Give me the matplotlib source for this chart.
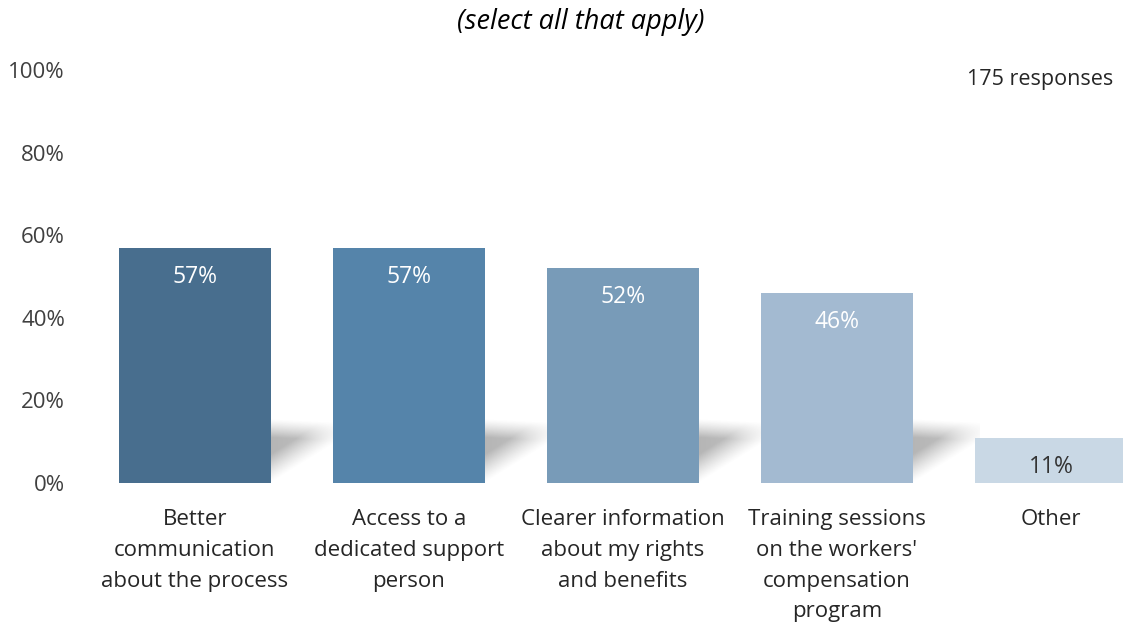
import numpy as np
import matplotlib

matplotlib.use("Agg")
import matplotlib.pyplot as plt

plt.rcParams["font.family"] = ["Open Sans", "DejaVu Sans"]

categories = [
    "Better\ncommunication\nabout the process",
    "Access to a\ndedicated support\nperson",
    "Clearer information\nabout my rights\nand benefits",
    "Training sessions\non the workers'\ncompensation\nprogram",
    "Other",
]
values = [57, 57, 52, 46, 11]
colors = ["#486E8E", "#5584AA", "#789BB8", "#A3BAD1", "#C9D8E5"]
label_colors = ["white", "white", "white", "white", "#333333"]
yticks = [0, 20, 40, 60, 80, 100]
n_responses = 175

W, H = 1123, 625
fig = plt.figure(figsize=(W / 100, H / 100), dpi=100)
ax = fig.add_axes([90 / W, 142 / H, 1 - 90 / W, (483 - 70) / H])

x = np.arange(len(categories))
bar_w = 0.71
ax.bar(x, values, width=bar_w, color=colors, zorder=3)


def add_shadow(ax, x_left, gap):
    # soft perspective shadow in the gap to the right of a bar
    nx, ny = 120, 120
    u = np.linspace(0, 1, nx)
    v = np.linspace(0, 20, ny)
    U, V = np.meshgrid(u, v)
    bottom = 0.0 + 10.0 * U
    top = 15.5 - 0.8 * U
    a = np.clip((V - bottom) / 7.0, 0, 1) * np.clip((top - V) / 4.5, 0, 1)
    a = a ** 1.2 * (0.5 - 0.1 * U)
    rgba = np.zeros((ny, nx, 4))
    rgba[..., :3] = 0.42
    rgba[..., 3] = a
    ax.imshow(rgba, extent=[x_left, x_left + gap, 0, 20], origin="lower",
              aspect="auto", interpolation="bilinear", zorder=1)


for xi in x[:-1]:
    add_shadow(ax, xi + bar_w / 2, 1 - bar_w + 0.02)

for xi, v, lc in zip(x, values, label_colors):
    ax.annotate(f"{v}%", (xi, v), xytext=(0, -21), textcoords="offset points",
                ha="center", va="center", fontsize=16.5, color=lc, zorder=4)

ax.set_xlim(-0.49, 4.336)
ax.set_ylim(0, 100)
ax.set_yticks(yticks)
ax.set_yticklabels([f"{t}%" for t in yticks], fontsize=16, color="#404040")
ax.set_xticks(x)
ax.set_xticklabels(categories, fontsize=16, color="#262626", linespacing=1.62)
ax.tick_params(axis="y", length=0, pad=18)
ax.tick_params(axis="x", length=0, pad=18.5)
for s in ax.spines.values():
    s.set_visible(False)

fig.text(581 / W, 1 - 22 / H, "(select all that apply)", ha="center", va="center",
         fontsize=19.5, style="italic", color="black")
fig.text(1113 / W, 1 - 79 / H, f"{n_responses} responses", ha="right", va="center",
         fontsize=15.5, color="#262626")

fig.savefig("out.png", dpi=100)
